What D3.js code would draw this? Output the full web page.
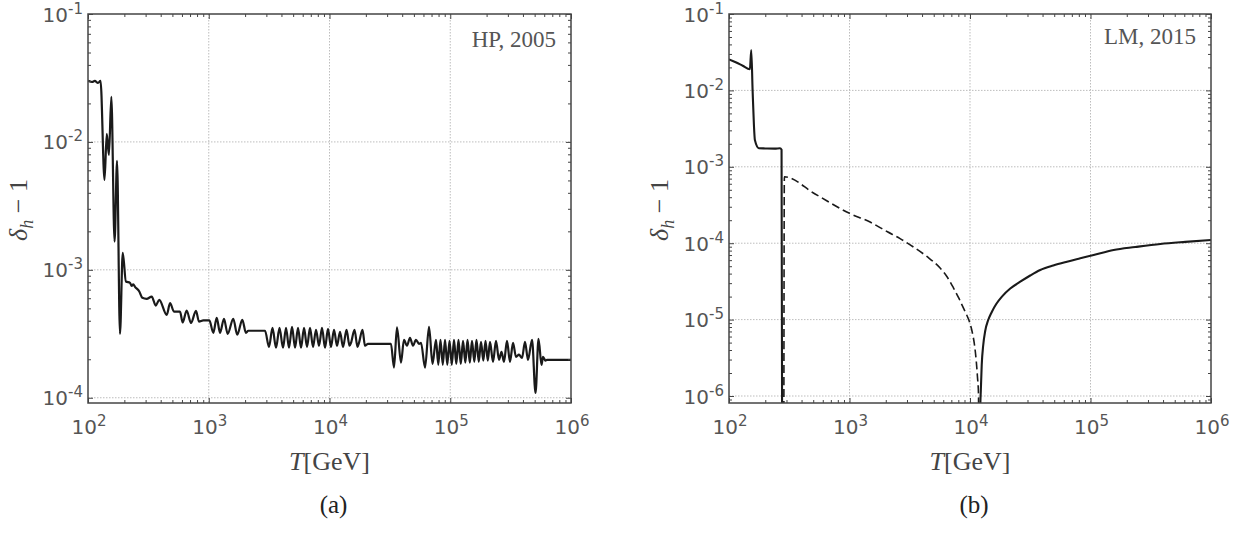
<!DOCTYPE html>
<html>
<head>
<meta charset="utf-8">
<script src="https://cdn.jsdelivr.net/npm/d3@7"></script>
<style>
  body { margin: 0; background: #fff; }
  svg { display: block; }
</style>
</head>
<body>
<div class="chart"></div>
<script>
// Tick exponents (labels are 10^e)
const xTickExp = [2, 3, 4, 5, 6];
const hpYTickExp = [-4, -3, -2, -1];
const lmYTickExp = [-6, -5, -4, -3, -2, -1];

// Panel (a): HP, 2005 -- delta_h - 1 vs T [GeV]
const hpT = [100, 108, 114, 121, 127, 137, 143, 149, 156, 166, 174, 184, 194, 206,
  223, 230, 237, 245, 266, 282, 306, 337, 364, 389, 449, 478, 515, 578, 608, 656,
  713, 784, 830, 902, 1012, 1091, 1164, 1240, 1337, 1435, 1596, 1722, 1896, 2032,
  2126, 2925, 3155, 3373, 3606, 3855, 4121, 4364, 4621, 4893, 5181, 5486, 5809,
  6151, 6513, 6896, 7302, 7732, 8187, 8669, 9179, 9719, 10280, 10900, 11540, 12220,
  12940, 13840, 14650, 15070, 16110, 17060, 17550, 18760, 19680, 20840, 32280,
  34200, 36220, 39080, 41380, 43820, 46400, 49130, 52020, 55090, 57270, 61810,
  66700, 71300, 76200, 79600, 83000, 86700, 90500, 94500, 98600, 103000, 107400,
  112200, 117000, 122200, 127600, 133300, 139000, 145200, 151400, 158200, 164900,
  172200, 179800, 187800, 195900, 204600, 213400, 226000, 239300, 253400, 265700,
  278600, 295000, 312400, 331000, 350500, 370900, 392900, 416100, 440500, 475500,
  508400, 538200, 570000, 586300, 615000, 632600, 1000000];
const hpDelta = [0.0300, 0.0294, 0.0300, 0.0289, 0.0300, 0.00505, 0.01155, 0.00791,
  0.0225, 0.00166, 0.00711, 0.000316, 0.00136, 0.00081,
  0.000791, 0.00075, 0.00077, 0.000737, 0.000677, 0.000604, 0.000593, 0.000618,
  0.000526, 0.000583, 0.000445, 0.00055, 0.000472, 0.000472, 0.000388, 0.000481,
  0.000384, 0.000479, 0.000394, 0.000402, 0.000402, 0.000322, 0.000422, 0.000322,
  0.000414, 0.000316, 0.000414, 0.000311, 0.000407, 0.000322,
  0.000334, 0.000334, 0.00025, 0.000352, 0.000246, 0.000352, 0.000246, 0.000352,
  0.000246, 0.000359, 0.000246, 0.000352, 0.000246,
  0.000352, 0.00025, 0.000352, 0.00025, 0.00034, 0.000255, 0.000352, 0.000246,
  0.000346, 0.00025, 0.00034, 0.000255, 0.000328,
  0.00025, 0.00034, 0.000255, 0.000269, 0.00034, 0.00025, 0.000269, 0.00034,
  0.000255, 0.000264, 0.000264,
  0.000172, 0.000355, 0.000188, 0.000284, 0.000255, 0.000294, 0.000255, 0.000284,
  0.000264, 0.000269, 0.000172,
  0.000359, 0.000184, 0.000284, 0.000181, 0.000284, 0.000181, 0.000284, 0.000181,
  0.000279, 0.000181, 0.000284,
  0.000184, 0.000284, 0.000184, 0.000279, 0.000188, 0.000284, 0.000188, 0.000279,
  0.000191, 0.000284,
  0.000191, 0.000274, 0.000195, 0.000279, 0.000195, 0.000274, 0.000191, 0.000279,
  0.000198, 0.000229,
  0.000191, 0.000279, 0.000191, 0.000269, 0.000209, 0.000217, 0.000205, 0.000274,
  0.000198, 0.000284,
  0.000109, 0.000289, 0.000181, 0.000209, 0.000195, 0.000198, 0.000198];

// Panel (b): LM, 2015 -- solid curve (two branches, zero in between) and dashed curve
const lmHighT = [100, 115, 130, 149, 153, 157, 161, 164, 177, 200, 240, 265, 273, 278];
const lmHighDelta = [0.0255, 0.0232, 0.021, 0.0189, 0.0338, 0.01, 0.00352, 0.00224,
  0.00175, 0.00174, 0.00173, 0.00175, 0.00167, 0];
const lmLowT = [12100, 12160, 12300, 12510, 12880, 13370, 14160, 15200, 16510, 18410,
  21580, 26120, 31620, 38280, 49090, 63800, 82250, 106200, 155600, 235600, 380000,
  612000, 1000000];
const lmLowDelta = [0, 6.56e-7, 1.20e-6, 2.55e-6, 4.65e-6, 7.09e-6, 9.88e-6, 1.27e-5,
  1.60e-5, 2.0e-5, 2.55e-5, 3.13e-5, 3.78e-5, 4.46e-5, 5.11e-5, 5.73e-5, 6.34e-5,
  7.01e-5, 8.15e-5, 8.91e-5, 9.77e-5, 1.04e-4, 1.10e-4];
const lmDashT = [284, 288, 518, 1000, 1483, 2065, 2630, 3396, 4386, 5650, 6470, 7300,
  8060, 8830, 9390, 9910, 10430, 10900, 11250, 11530, 11770, 11850];
const lmDashDelta = [0, 7.41e-4, 4.41e-4, 2.46e-4, 1.89e-4, 1.41e-4, 1.15e-4, 8.91e-5,
  6.70e-5, 4.73e-5, 3.61e-5, 2.59e-5, 1.92e-5, 1.41e-5, 1.15e-5, 9.31e-6, 6.89e-6,
  4.65e-6, 2.96e-6, 1.79e-6, 1.03e-6, 0];

const panels = [
  {
    left: 88, right: 571, top: 14, bottom: 403, yMin: 9.1e-5, yExp: hpYTickExp,
    note: "HP, 2005", noteY: 47, tag: "(a)",
    series: [{ T: hpT, d: hpDelta, dash: null, width: 2.2 }],
  },
  {
    left: 729, right: 1211, top: 14, bottom: 403, yMin: 8.1e-7, yExp: lmYTickExp,
    note: "LM, 2015", noteY: 44, tag: "(b)",
    series: [
      { T: lmDashT, d: lmDashDelta, dash: "8,4", width: 1.6 },
      { T: lmHighT, d: lmHighDelta, dash: null, width: 2.1 },
      { T: lmLowT, d: lmLowDelta, dash: null, width: 2.1 },
    ],
  },
];

const svg = d3.select(".chart").append("svg").attr("width", 1245).attr("height", 533);

const frameColor = "#444";
const labelColor = "#555";
const sansFont = "'DejaVu Sans', sans-serif";
const serifFont = "'Liberation Serif', serif";

// minor tick positions (2..9 x 10^k) strictly inside a log domain
function minorTicks(lo, hi) {
  const out = [];
  for (let e = Math.floor(Math.log10(lo)); e < Math.log10(hi); e++) {
    for (let m = 2; m <= 9; m++) {
      const v = m * Math.pow(10, e);
      if (v > lo && v < hi) out.push(v);
    }
  }
  return out;
}

function powLabel(text, e) {
  text.append("tspan").text("10");
  text.append("tspan").attr("dy", -8).attr("font-size", 15).text(e);
}

panels.forEach((p, i) => {
  const x = d3.scaleLog().domain([1e2, 1e6]).range([p.left, p.right]);
  const y = d3.scaleLog().domain([p.yMin, 1e-1]).range([p.bottom, p.top]);
  const g = svg.append("g");
  const xMajor = xTickExp.map(e => Math.pow(10, e));
  const yMajor = p.yExp.map(e => Math.pow(10, e));

  // dotted grid at the decades
  g.append("g")
    .selectAll("line")
    .data(xMajor.filter(v => v > 1e2 && v < 1e6))
    .join("line")
    .attr("x1", d => x(d)).attr("x2", d => x(d))
    .attr("y1", p.top).attr("y2", p.bottom)
    .attr("stroke", "#bdbdbd").attr("stroke-width", 1).attr("stroke-dasharray", "1.5,1.5");
  g.append("g")
    .selectAll("line")
    .data(yMajor.filter(v => v < 1e-1))
    .join("line")
    .attr("x1", p.left).attr("x2", p.right)
    .attr("y1", d => y(d)).attr("y2", d => y(d))
    .attr("stroke", "#bdbdbd").attr("stroke-width", 1).attr("stroke-dasharray", "1.5,1.5");

  // curves
  svg.append("clipPath").attr("id", "clip" + i)
    .append("rect")
    .attr("x", p.left).attr("y", p.top)
    .attr("width", p.right - p.left).attr("height", p.bottom - p.top);

  const line = d3.line()
    .x(d => x(d[0]))
    .y(d => y(Math.max(d[1], 1e-9))) // zero values fall off the log axis
    .curve(d3.curveMonotoneX);

  const plot = g.append("g").attr("clip-path", `url(#clip${i})`);
  p.series.forEach(s => {
    plot.append("path")
      .datum(d3.zip(s.T, s.d))
      .attr("d", line)
      .attr("fill", "none")
      .attr("stroke", "#1a1a1a")
      .attr("stroke-width", s.width)
      .attr("stroke-linejoin", "round")
      .attr("stroke-dasharray", s.dash);
  });

  // inward ticks on all four sides
  const xMinor = minorTicks(1e2, 1e6);
  const yMinor = minorTicks(p.yMin, 1e-1);
  const sides = [
    [d3.axisBottom, x, `translate(0,${p.bottom})`, xMajor, xMinor],
    [d3.axisTop, x, `translate(0,${p.top})`, xMajor, xMinor],
    [d3.axisLeft, y, `translate(${p.left},0)`, yMajor, yMinor],
    [d3.axisRight, y, `translate(${p.right},0)`, yMajor, yMinor],
  ];
  sides.forEach(([axisFn, scale, tr, major, minor]) => {
    [[major, -5], [minor, -3]].forEach(([vals, size]) => {
      g.append("g")
        .attr("transform", tr)
        .call(axisFn(scale).tickValues(vals).tickSize(size).tickFormat(""))
        .call(a => a.select(".domain").remove())
        .selectAll("line")
        .attr("stroke", frameColor)
        .attr("stroke-width", 1);
    });
  });

  // frame
  g.append("rect")
    .attr("x", p.left).attr("y", p.top)
    .attr("width", p.right - p.left).attr("height", p.bottom - p.top)
    .attr("fill", "none").attr("stroke", frameColor).attr("stroke-width", 1.5);

  // tick labels
  xTickExp.forEach(e => {
    g.append("text")
      .attr("x", x(Math.pow(10, e)) + 1).attr("y", 434)
      .attr("text-anchor", "middle")
      .attr("font-family", sansFont).attr("font-size", 20)
      .attr("fill", labelColor)
      .call(powLabel, e);
  });
  p.yExp.forEach(e => {
    g.append("text")
      .attr("x", p.left - 5).attr("y", y(Math.pow(10, e)) + 7.5)
      .attr("text-anchor", "end")
      .attr("font-family", sansFont).attr("font-size", 20)
      .attr("fill", labelColor)
      .call(powLabel, e);
  });

  // axis titles
  const cx = (p.left + p.right) / 2;
  const xt = g.append("text")
    .attr("x", cx).attr("y", 470)
    .attr("text-anchor", "middle")
    .attr("font-family", serifFont).attr("font-size", 26)
    .attr("fill", "#444");
  xt.append("tspan").attr("font-style", "italic").text("T");
  xt.append("tspan").text("[GeV]");

  const yt = g.append("text")
    .attr("transform", `translate(${p.left - 61},210) rotate(-90)`)
    .attr("text-anchor", "middle")
    .attr("font-family", serifFont).attr("font-size", 26)
    .attr("fill", "#444");
  yt.append("tspan").attr("font-style", "italic").text("δ");
  yt.append("tspan").attr("font-style", "italic").attr("font-size", 18).attr("dy", 6).text("h");
  yt.append("tspan").attr("dy", -6).text(" − 1");

  // corner note
  g.append("text")
    .attr("x", p.right - 15).attr("y", p.noteY)
    .attr("text-anchor", "end")
    .attr("font-family", serifFont).attr("font-size", 23)
    .attr("fill", "#555")
    .text(p.note);

  // panel tag
  g.append("text")
    .attr("x", cx + 4).attr("y", 513)
    .attr("text-anchor", "middle")
    .attr("font-family", serifFont).attr("font-size", 25)
    .attr("fill", "#222")
    .text(p.tag);
});
</script>
</body>
</html>
